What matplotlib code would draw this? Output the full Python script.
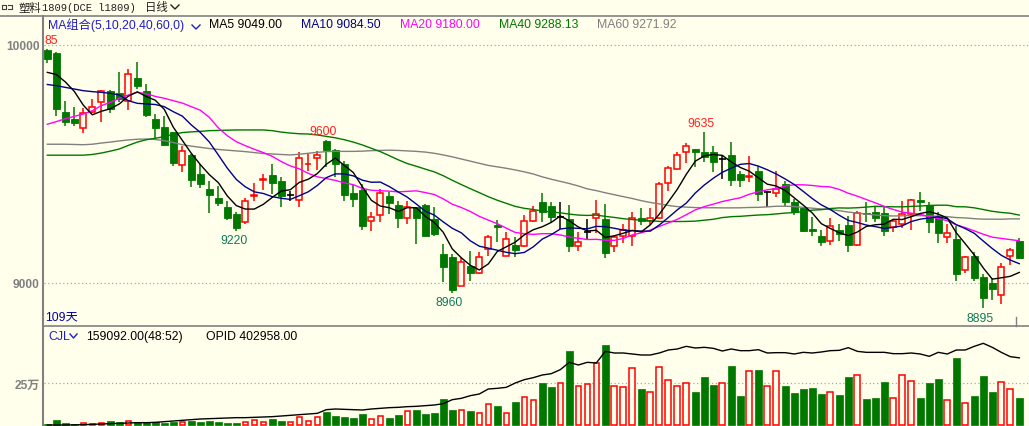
import matplotlib
matplotlib.use("Agg")
import matplotlib.pyplot as plt
from matplotlib.lines import Line2D
import numpy as np

# ---------------- data ----------------
opens = [9980, 9966, 9720, 9689, 9653, 9717, 9759, 9805, 9797, 9764,
         9860, 9805, 9689, 9654, 9633, 9497, 9538, 9458, 9395, 9357,
         9321, 9290, 9258, 9365, 9431, 9454, 9430, 9370, 9349, 9498,
         9524, 9598, 9559, 9500, 9378, 9392, 9262, 9287, 9364, 9328,
         9272, 9318, 9328, 9269, 9122, 9108, 8989, 9070, 9042, 9143,
         9245, 9115, 9160, 9157, 9259, 9339, 9322, 9276, 9269, 9157,
         9213, 9272, 9269, 9157, 9196, 9199, 9273, 9259, 9272, 9419,
         9479, 9549, 9563, 9552, 9552, 9521, 9538, 9458, 9445, 9472,
         9384, 9377, 9416, 9342, 9314, 9227, 9199, 9175, 9223, 9244,
         9160, 9294, 9297, 9294, 9234, 9248, 9290, 9349, 9328, 9280,
         9195, 9185, 9056, 9115, 9027, 9000, 8951, 9112, 9175]
highs = [9985, 9972, 9766, 9738, 9734, 9773, 9810, 9812, 9885, 9899,
         9927, 9836, 9710, 9700, 9636, 9574, 9540, 9500, 9430, 9409,
         9346, 9300, 9357, 9420, 9458, 9500, 9444, 9388, 9549, 9542,
         9556, 9600, 9563, 9514, 9412, 9416, 9297, 9395, 9381, 9346,
         9346, 9318, 9330, 9318, 9164, 9122, 9104, 9133, 9129, 9202,
         9265, 9213, 9192, 9286, 9325, 9378, 9342, 9339, 9328, 9213,
         9269, 9349, 9332, 9199, 9248, 9297, 9315, 9315, 9423, 9493,
         9549, 9588, 9563, 9635, 9577, 9538, 9594, 9472, 9535, 9493,
         9388, 9472, 9430, 9353, 9318, 9276, 9223, 9272, 9248, 9283,
         9304, 9342, 9318, 9318, 9269, 9343, 9353, 9384, 9342, 9297,
         9248, 9241, 9115, 9129, 9038, 9020, 9084, 9146, 9188]
lows = [9924, 9703, 9658, 9658, 9630, 9714, 9675, 9714, 9759, 9728,
        9815, 9699, 9608, 9574, 9493, 9468, 9405, 9399, 9294, 9322,
        9265, 9220, 9248, 9346, 9392, 9374, 9318, 9343, 9318, 9472,
        9476, 9486, 9444, 9346, 9321, 9224, 9220, 9258, 9290, 9231,
        9248, 9164, 9196, 9199, 9003, 8960, 8986, 9010, 9038, 9115,
        9174, 9115, 9108, 9153, 9257, 9258, 9252, 9227, 9132, 9136,
        9185, 9210, 9105, 9129, 9168, 9157, 9244, 9244, 9269, 9388,
        9476, 9503, 9486, 9507, 9468, 9437, 9406, 9402, 9423, 9346,
        9318, 9363, 9325, 9287, 9216, 9196, 9157, 9161, 9175, 9129,
        9154, 9255, 9255, 9199, 9216, 9230, 9224, 9304, 9210, 9168,
        9168, 9010, 9042, 9010, 8895, 8930, 8912, 9077, 9101]
closes = [9941, 9731, 9678, 9672, 9714, 9738, 9805, 9731, 9773, 9878,
          9829, 9706, 9653, 9581, 9504, 9553, 9434, 9416, 9370, 9336,
          9273, 9231, 9343, 9370, 9435, 9420, 9364, 9370, 9524, 9502,
          9538, 9560, 9500, 9370, 9353, 9240, 9276, 9377, 9336, 9273,
          9321, 9272, 9199, 9206, 9066, 8972, 9087, 9041, 9108, 9192,
          9234, 9185, 9140, 9259, 9301, 9297, 9276, 9276, 9157, 9171,
          9213, 9290, 9126, 9192, 9224, 9273, 9259, 9273, 9416, 9482,
          9538, 9574, 9549, 9528, 9510, 9521, 9434, 9434, 9450, 9374,
          9384, 9395, 9339, 9297, 9220, 9220, 9171, 9238, 9206, 9161,
          9294, 9289, 9273, 9220, 9262, 9290, 9349, 9339, 9258, 9210,
          9210, 9038, 9108, 9023, 8937, 8975, 9066, 9139, 9105]
volumes = [6000, 30000, 12000, 6000, 12000, 8000, 12000, 24000, 16000, 24000,
           16000, 16000, 16000, 12000, 20000, 18000, 26000, 18000, 26000, 18000,
           12000, 12000, 18000, 30000, 18000, 38000, 26000, 18000, 48000, 24000,
           48000, 80000, 54000, 48000, 44000, 66000, 36000, 56000, 42000, 60000,
           84000, 92000, 66000, 72000, 156000, 92000, 90000, 86000, 72000, 126000,
           116000, 72000, 138000, 166000, 150000, 252000, 228000, 250000, 444000, 232000,
           244000, 370000, 480000, 232000, 226000, 340000, 216000, 196000, 346000, 268000,
           232000, 250000, 198000, 288000, 240000, 250000, 354000, 174000, 322000, 330000,
           232000, 322000, 234000, 192000, 216000, 222000, 186000, 198000, 180000, 288000,
           298000, 156000, 162000, 258000, 160000, 298000, 264000, 162000, 252000, 276000,
           150000, 402000, 130000, 174000, 294000, 198000, 258000, 214000, 159092]
open_interest = [0, 0, 0, 1000, 2000, 4000, 6000, 8000, 10000, 12000,
                 14000, 14000, 16000, 20000, 24000, 28000, 32000, 36000, 38000, 40000,
                 42000, 44000, 44000, 46000, 48000, 50000, 54000, 58000, 62000, 66000,
                 70000, 92000, 96000, 94000, 92000, 90000, 96000, 100000, 104000, 106000,
                 110000, 112000, 116000, 120000, 128000, 152000, 160000, 176000, 186000, 216000,
                 220000, 226000, 252000, 272000, 284000, 300000, 308000, 332000, 376000, 360000,
                 376000, 372000, 442000, 432000, 432000, 426000, 420000, 420000, 432000, 450000,
                 456000, 472000, 462000, 466000, 460000, 444000, 456000, 446000, 446000, 452000,
                 432000, 434000, 434000, 426000, 436000, 432000, 438000, 446000, 448000, 464000,
                 442000, 436000, 436000, 436000, 428000, 428000, 432000, 426000, 412000, 436000,
                 426000, 450000, 450000, 472000, 490000, 466000, 436000, 410000, 402958]

ma5_head = [9885, 9876, 9845, 9805]
ma10_head = [9834, 9829, 9822, 9815, 9808, 9804, 9801, 9797, 9790]
ma20_head = [9667, 9678, 9690, 9700, 9710, 9724, 9745, 9759, 9776, 9790,
             9801, 9795, 9784, 9776, 9766, 9756, 9741, 9726, 9696]
ma40_head = [9537, 9537, 9537, 9537, 9537, 9540, 9546, 9554, 9563, 9578,
             9592, 9602, 9608, 9615, 9625, 9632, 9635, 9637, 9640, 9641,
             9642, 9643, 9643, 9643, 9643, 9640, 9634, 9630, 9627, 9626,
             9622, 9616, 9610, 9602, 9592, 9580, 9566, 9552, 9535]
ma60_head = [9583, 9583, 9583, 9582, 9581, 9583, 9588, 9592, 9597, 9601,
             9604, 9605, 9603, 9598, 9590, 9581, 9575, 9570, 9565, 9561,
             9558, 9555, 9552, 9548, 9544, 9542, 9540, 9538, 9541, 9545,
             9549, 9552, 9553, 9553, 9553, 9554, 9556, 9557, 9558, 9557,
             9555, 9553, 9550, 9545, 9538, 9530, 9521, 9512, 9503, 9494,
             9488, 9482, 9475, 9467, 9458, 9446, 9436, 9427, 9418]

# latest values shown in the header row
ma_last = [9049.00, 9084.50, 9180.00, 9288.13, 9271.92]
vol_ratio = "48:52"
day_count = "109天"

high_marks = [0, 31, 73]
low_marks = [21, 45, 104]

ma_periods = [5, 10, 20, 40, 60]
ma_heads = [ma5_head, ma10_head, ma20_head, ma40_head, ma60_head]
ma_colors = ["#000000", "#00008B", "#FF00FF", "#007800", "#808080"]

# ---------------- style ----------------
BG = "#FFFFEB"
RED = "#FF0000"
GREEN = "#007800"
GRAY = "#808080"
W, H = 1029, 427

fig = plt.figure(figsize=(W / 100, H / 100), dpi=100, facecolor=BG)


def px_axes(x0, y0, x1, y1):
    a = fig.add_axes([x0 / W, 1 - y1 / H, (x1 - x0) / W, (y1 - y0) / H])
    a.set_facecolor(BG)
    for s in a.spines.values():
        s.set_visible(False)
    return a


def ftext(x, y, s, **kw):
    kw.setdefault("va", "center")
    kw.setdefault("fontsize", 8.8)
    kw.setdefault("family", ["Liberation Sans", "Noto Sans CJK SC"])
    return fig.text(x / W, 1 - y / H, s, **kw)


def fline(xs, ys, **kw):
    fig.add_artist(Line2D([x / W for x in xs], [1 - y / H for y in ys], **kw))


n = len(closes)
idx = np.arange(n)
o = np.array(opens, float)
h = np.array(highs, float)
l = np.array(lows, float)
c = np.array(closes, float)

XL = (-0.367, 109.08)

# ---------------- price panel ----------------
ax = px_axes(44, 17, 1029, 327)
ax.set_xlim(*XL)
ax.set_ylim(8819.3, 10121.8)
ax.set_xticks([])
ax.set_yticks([9000, 10000])
ax.set_yticklabels(["9000", "10000"], color=GRAY, fontweight="bold",
                   fontsize=8.6, family="Liberation Sans")
ax.tick_params(axis="y", length=0, pad=3)
for lv in (9000, 10000):
    ax.axhline(lv, color="#A8A8A8", lw=0.9, ls=(0, (1, 2)), zorder=0)

bw = 0.78
up = c > o
dn = c < o
eq = c == o
# wicks
ax.vlines(idx[dn], l[dn], h[dn], color=GREEN, lw=1.1, zorder=2)
ax.vlines(idx[up], c[up], h[up], color=RED, lw=1.1, zorder=2)
ax.vlines(idx[up], l[up], o[up], color=RED, lw=1.1, zorder=2)
ax.vlines(idx[eq], l[eq], h[eq], color="black", lw=1.1, zorder=2)
# bodies
ax.bar(idx[dn], o[dn] - c[dn], bottom=c[dn], width=bw, color=GREEN,
       edgecolor=GREEN, lw=0.6, zorder=3)
ax.bar(idx[up], c[up] - o[up], bottom=o[up], width=bw - 0.1, facecolor=BG,
       edgecolor=RED, lw=1.1, zorder=3)
ax.hlines(c[eq], idx[eq] - bw / 2, idx[eq] + bw / 2, color="black", lw=1.2, zorder=3)

# moving averages
ma_vals = []
for p, head in zip(ma_periods, ma_heads):
    tail = [c[i - p + 1:i + 1].mean() for i in range(p - 1, n)]
    ma_vals.append(np.array(list(head) + tail))
for vals, col in reversed(list(zip(ma_vals, ma_colors))):
    ax.plot(idx, vals, color=col, lw=1.0, zorder=4)

# extreme-price labels (the one at the left edge is cut by the axis, as in the source)
for i in high_marks:
    lab = f"{h[i]:.0f}"
    if i == 0:
        ax.annotate(lab[2:], (XL[0], h[i]), xytext=(0.5, 6.2), textcoords="offset points",
                    ha="left", va="center", color="#FF2020", fontsize=8.8,
                    family="Liberation Sans", annotation_clip=False, zorder=6)
    else:
        ax.annotate(lab, (i, h[i]), xytext=(-2.2, 6.6), textcoords="offset points",
                    ha="center", va="center", color="#FF2020", fontsize=8.8,
                    family="Liberation Sans", annotation_clip=False, zorder=6)
for i in low_marks:
    ax.annotate(f"{l[i]:.0f}", (i, l[i]), xytext=(-2.0, -7.0), textcoords="offset points",
                ha="center", va="center", color="#107858", fontsize=8.8,
                family="Liberation Sans", annotation_clip=False, zorder=6)

# ---------------- volume panel ----------------
vax = px_axes(44, 327, 1029, 427)
vax.set_xlim(*XL)
vax.set_ylim(-6000, 594000)
vax.set_xticks([])
vax.set_yticks([250000])
vax.set_yticklabels(["25万"], color=GRAY, fontweight="bold", fontsize=8.6,
                    family=["Liberation Sans", "Noto Sans CJK SC"])
vax.tick_params(axis="y", length=0, pad=3)
vax.axhline(250000, color="#A8A8A8", lw=0.9, ls=(0, (1, 2)), zorder=0)
v = np.array(volumes, float)
vup = c >= o
vbw = 0.72
vax.bar(idx[~vup], v[~vup], width=vbw, color=GREEN, edgecolor=GREEN, lw=0.5, zorder=3)
vax.bar(idx[vup], v[vup], width=vbw - 0.1, facecolor=BG, edgecolor=RED, lw=1.1, zorder=3)
vax.plot(idx, open_interest, color="black", lw=1.0, zorder=4)

# ---------------- frame lines ----------------
fline([0, W], [16.8, 16.8], color=GRAY, lw=1.2)
fline([43.3, 43.3], [16.8, H], color=GRAY, lw=1.5)
fline([43.3, W], [327.3, 327.3], color=GRAY, lw=1.2)
fline([1015.7, 1015.7], [318, 327], color=GRAY, lw=1.0)

# ---------------- title row ----------------
fline([1.5, 5.5, 5.5, 1.5, 1.5], [5.5, 5.5, 9.5, 9.5, 5.5], color="#404040", lw=0.8)
fline([7.5, 12, 12, 7.5], [5.5, 5.5, 9.5, 9.5], color="#404040", lw=0.8)
ftext(18, 8, "塑料", family=["Noto Sans CJK SC"], fontsize=8.2, color="#202020")
ftext(41.5, 8, "1809(DCE l1809)", family=["Liberation Mono"], fontsize=7.6, color="#202020")
ftext(145, 8, "日线", family=["Noto Sans CJK SC"], fontsize=8.2, color="#202020")
fline([171, 175, 179], [6, 10, 6], color="#202020", lw=1.0)

# ---------------- MA header ----------------
ftext(48, 25, "MA组合(5,10,20,40,60,0)", color="#1E1EC8")
fline([192, 196, 200], [26, 30, 26], color="#1E1EC8", lw=1.0)
header_x = [209, 301, 400, 499, 597]
for x, p, val, col in zip(header_x, ma_periods, ma_last, ma_colors):
    ftext(x, 25, f"MA{p} {val:.2f}", color=col)

ftext(45, 317, day_count, color="#0000A0")

# ---------------- volume header ----------------
ftext(48, 336.7, "CJL", color="#1E1EC8")
fline([70, 73.5, 77], [335, 339, 335], color="#1E1EC8", lw=1.0)
ftext(86, 336.7, f"{v[-1]:.2f}({vol_ratio})", color="black")
ftext(206, 336.7, f"OPID {open_interest[-1]:.2f}", color="black")

fig.savefig("out.png", dpi=100, facecolor=BG)
